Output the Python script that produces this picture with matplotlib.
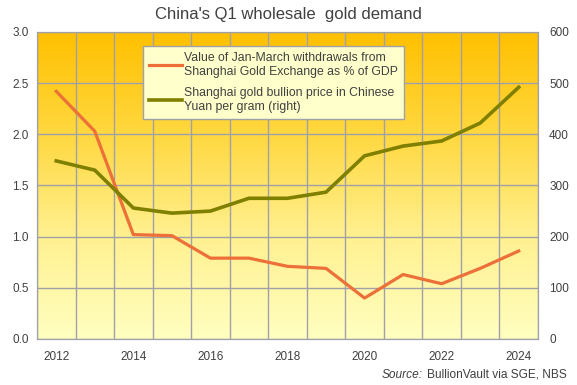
import numpy as np
import matplotlib.pyplot as plt
from matplotlib.colors import LinearSegmentedColormap

plt.rcParams['font.family'] = ['Liberation Sans', 'DejaVu Sans']

# 数据
years = [2012, 2013, 2014, 2015, 2016, 2017, 2018, 2019, 2020, 2021, 2022, 2023, 2024]
withdrawals_pct_gdp = [2.42, 2.03, 1.02, 1.01, 0.79, 0.79, 0.71, 0.69, 0.40, 0.63, 0.54, 0.69, 0.86]
price_cny_gram = [348, 330, 256, 246, 250, 275, 275, 287, 358, 377, 387, 422, 492]
x_tick_years = [2012, 2014, 2016, 2018, 2020, 2022, 2024]

TEXT = '#404040'
GRID = '#A0A0A8'
ORANGE = '#EC7038'
OLIVE = '#808000'

fig = plt.figure(figsize=(5.77, 3.85), dpi=100)
ax = fig.add_axes([0.0641, 0.1195, 0.8683, 0.7974])
ax2 = ax.twinx()

# 渐变背景
cmap = LinearSegmentedColormap.from_list('bg', ['#FFFFC0', '#FFF090', '#FFD840', '#FFC000'])
grad = np.linspace(0, 1, 256).reshape(-1, 1)
ax.imshow(grad, aspect='auto', cmap=cmap, origin='lower',
          extent=[2011.5, 2024.5, 0, 3], zorder=0)

ax.set_xlim(2011.5, 2024.5)
ax.set_ylim(0, 3)
ax2.set_ylim(0, 600)

ax.set_xticks(np.arange(2011.5, 2025, 1), minor=True)
ax.set_xticks(x_tick_years)
ax.set_yticks(np.arange(0, 3.01, 0.5))
ax2.set_yticks(np.arange(0, 601, 100))
ax.grid(True, which='minor', axis='x', color=GRID, linewidth=1, zorder=1)
ax.grid(True, which='major', axis='y', color=GRID, linewidth=1, zorder=1)
ax.set_axisbelow(False)

ax.yaxis.set_major_formatter(plt.FormatStrFormatter('%.1f'))
for a in (ax, ax2):
    a.tick_params(which='both', length=0, labelsize=8.5, labelcolor=TEXT, pad=6)
    for s in a.spines.values():
        s.set_color(GRID)
ax.tick_params(axis='x', pad=9)
ax2.tick_params(axis='y', pad=8)

l1, = ax.plot(years, withdrawals_pct_gdp, color=ORANGE, linewidth=2.3, zorder=3,
              label='Value of Jan-March withdrawals from\nShanghai Gold Exchange as % of GDP')
l2, = ax2.plot(years, price_cny_gram, color=OLIVE, linewidth=2.6, zorder=3,
               label='Shanghai gold bullion price in Chinese\nYuan per gram (right)')

leg = ax2.legend(handles=[l1, l2], loc='upper left', bbox_to_anchor=(0.2, 0.975),
                 fontsize=8.8, frameon=True, fancybox=False, handlelength=2.7,
                 handletextpad=0.1, labelspacing=0.75, borderpad=0.5,
                 labelcolor=TEXT)
leg.get_frame().set_facecolor('#FFFFCC')
leg.get_frame().set_edgecolor(GRID)
leg.get_frame().set_alpha(1)

fig.text(0.5, 0.963, "China's Q1 wholesale  gold demand", ha='center', va='center',
         fontsize=12, color=TEXT)
src = fig.text(0.982, 0.027, 'BullionVault via SGE, NBS', ha='right', va='center',
               fontsize=8.6, color=TEXT)
fig.canvas.draw()
bb = src.get_window_extent()
fig.text((bb.x0 - 4) / fig.bbox.width, 0.027, 'Source:', ha='right', va='center',
         fontsize=8.6, color=TEXT, style='italic')

fig.savefig('out.png', dpi=100)
